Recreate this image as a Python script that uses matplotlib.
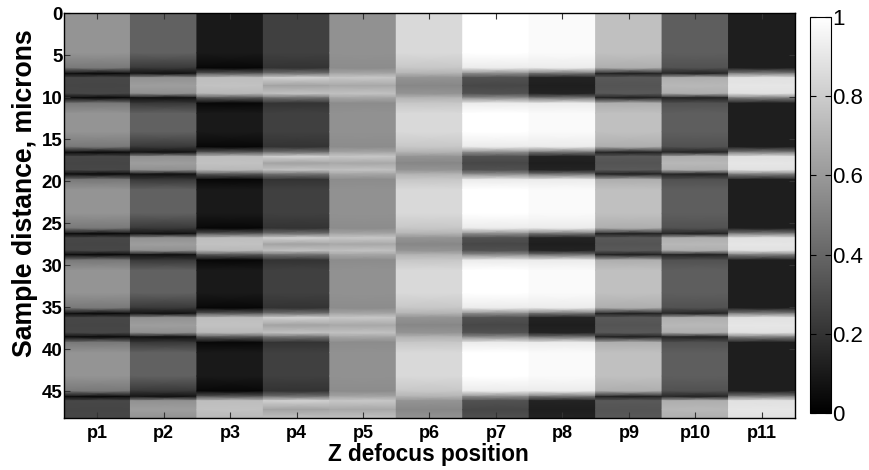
import numpy as np
import matplotlib
matplotlib.use("Agg")
import matplotlib.pyplot as plt
from matplotlib.colors import Normalize
from matplotlib.cm import ScalarMappable

plt.rcParams['font.family'] = ['Liberation Sans', 'DejaVu Sans']

# Defocus positions (columns)
positions = ["p1", "p2", "p3", "p4", "p5", "p6", "p7", "p8", "p9", "p10", "p11"]

# Sample-distance extent and the periodic fringe bands (microns)
y_max = 48.2
band_start = [7.3, 16.7, 26.4, 35.9, 45.8]
band_end = [9.9, 19.0, 28.6, 38.4, 48.6]

# Normalised intensity levels per defocus position
base_level     = [0.58, 0.38, 0.10, 0.25, 0.57, 0.85, 1.00, 0.98, 0.75, 0.37, 0.12]
shoulder_level = [0.47, 0.22, 0.03, 0.20, 0.55, 0.78, 0.92, 0.92, 0.68, 0.32, 0.12]
edge_level     = [0.04, 0.07, 0.35, 0.45, 0.65, 0.70, 0.55, 0.45, 0.13, 0.14, 0.50]
band_top_level = [0.28, 0.57, 0.74, 0.82, 0.78, 0.58, 0.32, 0.14, 0.35, 0.68, 0.88]
band_mid_level = [0.27, 0.62, 0.76, 0.64, 0.66, 0.53, 0.28, 0.12, 0.33, 0.72, 0.90]
band_bot_level = [0.28, 0.57, 0.72, 0.76, 0.76, 0.58, 0.32, 0.14, 0.35, 0.68, 0.88]

cbar_ticks = [0, 0.2, 0.4, 0.6, 0.8, 1]
cbar_labels = ["0", "0.2", "0.4", "0.6", "0.8", "1"]
y_ticks = [0, 5, 10, 15, 20, 25, 30, 35, 40, 45]

fig = plt.figure(figsize=(8.7, 4.7), dpi=100)
ax = fig.add_axes([64 / 870, 52 / 470, 731 / 870, 404.5 / 470])
cax = fig.add_axes([810 / 870, 57 / 470, 21 / 870, 396 / 470])

cmap = plt.get_cmap("gray")
norm = Normalize(0, 1)

for i in range(len(positions)):
    ys = [0.0]
    cs = [base_level[i]]
    for s, e in zip(band_start, band_end):
        knots = [
            (s - 2.6, base_level[i]),
            (s - 0.8, shoulder_level[i]),
            (s - 0.15, edge_level[i]),
            (s + 0.35, band_top_level[i]),
            ((s + e) / 2, band_mid_level[i]),
            (e - 0.35, band_bot_level[i]),
            (e + 0.15, edge_level[i]),
            (e + 0.8, shoulder_level[i]),
            (e + 2.0, base_level[i]),
        ]
        for yk, ck in knots:
            ys.append(yk)
            cs.append(ck)
    ys = np.array(ys)
    cs = np.array(cs)
    X = np.column_stack([np.full_like(ys, i + 0.5), np.full_like(ys, i + 1.5)])
    Y = np.column_stack([ys, ys])
    C = np.column_stack([cs, cs])
    ax.pcolormesh(X, Y, C, shading="gouraud", cmap=cmap, norm=norm)

ax.set_xlim(0.5, len(positions) + 0.5)
ax.set_ylim(y_max, 0)
ax.set_xticks(np.arange(1, len(positions) + 1))
ax.set_xticklabels(positions, fontsize=13, fontweight="bold")
ax.set_yticks(y_ticks)
ax.set_yticklabels([str(t) for t in y_ticks], fontsize=13.5, fontweight="bold")
ax.tick_params(direction="in", length=4, width=0.8, color="#333333",
               top=True, right=True)
ax.tick_params(axis="x", pad=5)
ax.tick_params(axis="y", pad=1)
for sp in ax.spines.values():
    sp.set_linewidth(1.0)
ax.set_xlabel("Z defocus position", fontsize=16.3, fontweight="bold")
ax.set_ylabel("Sample distance, microns", fontsize=19.2, fontweight="bold")
ax.xaxis.set_label_coords(0.498, -0.062)
ax.yaxis.set_label_coords(-0.036, 0.556)

cb = fig.colorbar(ScalarMappable(norm=norm, cmap=cmap), cax=cax)
cb.set_ticks(cbar_ticks)
cb.set_ticklabels(cbar_labels)
cax.tick_params(direction="in", length=4, width=0.8, labelsize=16,
                left=True, right=True, pad=1)
cb.outline.set_linewidth(0.8)

fig.savefig("out.png", dpi=100)
